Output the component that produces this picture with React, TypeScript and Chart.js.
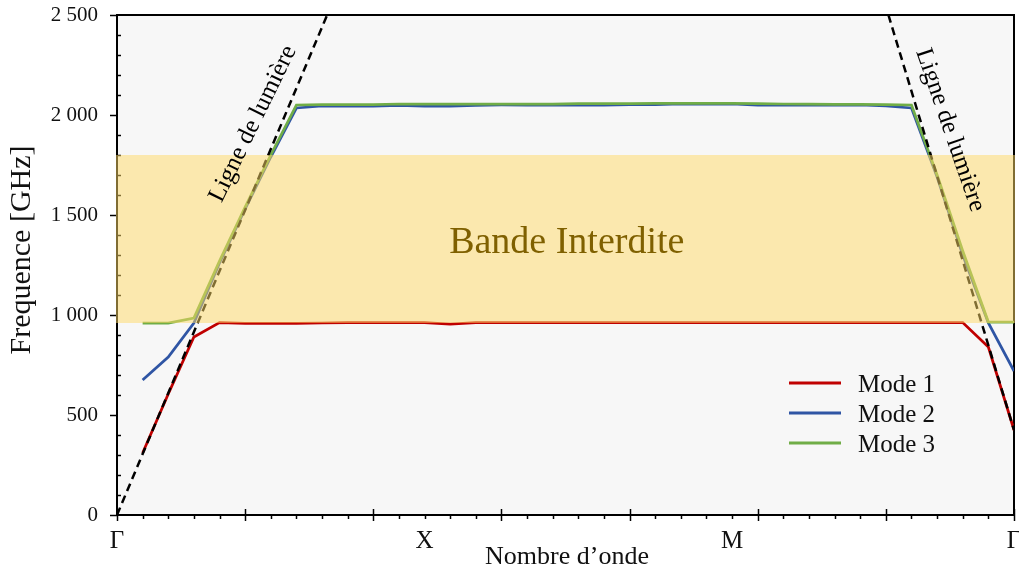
import React, { useEffect, useRef } from "react";
import { Chart, registerables } from "chart.js";

Chart.register(...registerables);

// ---- Data ----
const waveIndex = [1, 2, 3, 4, 5, 6, 7, 8, 9, 10, 11, 12, 13, 14, 15, 16, 17, 18, 19, 20, 21, 22, 23, 24, 25, 26, 27, 28, 29, 30, 31, 32, 33, 34, 35];
const mode1 = [310, 605, 890, 962, 958, 958, 958, 960, 962, 962, 962, 962, 955, 962, 962, 962, 962, 962, 962, 962, 962, 962, 962, 962, 962, 962, 962, 962, 962, 962, 962, 962, 962, 840, 425];
const mode2 = [675, 790, 960, 1260, 1530, 1790, 2035, 2045, 2045, 2045, 2048, 2045, 2045, 2048, 2050, 2050, 2050, 2050, 2050, 2052, 2052, 2055, 2055, 2055, 2050, 2050, 2050, 2050, 2050, 2045, 2035, 1690, 1300, 960, 720];
const mode3 = [960, 960, 985, 1270, 1540, 1800, 2050, 2052, 2052, 2052, 2055, 2055, 2055, 2055, 2055, 2055, 2055, 2057, 2057, 2057, 2058, 2058, 2058, 2058, 2057, 2055, 2055, 2053, 2053, 2052, 2050, 1700, 1320, 965, 965];
const seriesNames = ["Mode 1", "Mode 2", "Mode 3"];
const seriesColors = ["#c00000", "#2f55a4", "#70ad47"];

const lightLeftX = [0, 8.2];
const lightLeftY = [0, 2500];
const lightRightX = [30.1, 35];
const lightRightY = [2500, 425];

const xTickValues = [0, 12, 24, 35];
const xTickLabels = ["Γ", "X", "M", "Γ"];
const yMin = 0;
const yMax = 2500;
const yStep = 500;
const yMinorStep = 100;
const xMax = 35;
const xMajorStep = 5;

const bandLow = 960;
const bandHigh = 1800;
const bandLabel = "Bande Interdite";
const lightLabel = "Ligne de lumière";
const xTitle = "Nombre d’onde";
const yTitle = "Frequence [GHz]";

const FONT = "'Liberation Serif', 'DejaVu Serif', serif";

function fmt(v: number): string {
  if (v >= 1000) {
    const th = Math.floor(v / 1000);
    const rest = String(v % 1000).padStart(3, "0");
    return `${th} ${rest}`;
  }
  return String(v);
}

const decorPlugin = {
  id: "decor",
  beforeDatasetsDraw(chart: any) {
    const { ctx, chartArea: a, scales } = chart;
    const xs = scales.x;
    const ys = scales.y;
    ctx.save();
    ctx.fillStyle = "#f7f7f7";
    ctx.fillRect(a.left, a.top, a.right - a.left, a.bottom - a.top);
    ctx.strokeStyle = "#000";
    ctx.lineWidth = 2;
    ctx.strokeRect(a.left, a.top, a.right - a.left, a.bottom - a.top);
    ctx.lineWidth = 1.5;
    // y ticks
    for (let v = yMin; v <= yMax; v += yMinorStep) {
      const y = Math.round(ys.getPixelForValue(v)) + 0.5;
      ctx.beginPath();
      if (v % yStep === 0) {
        ctx.moveTo(a.left - 7, y);
        ctx.lineTo(a.left, y);
      } else {
        ctx.moveTo(a.left, y);
        ctx.lineTo(a.left + 4, y);
      }
      ctx.stroke();
    }
    // x ticks
    for (let i = 0; i <= xMax; i++) {
      const x = Math.round(xs.getPixelForValue(i)) + 0.5;
      ctx.beginPath();
      if (i % xMajorStep === 0) {
        ctx.moveTo(x, a.bottom - 6);
        ctx.lineTo(x, a.bottom + 6);
      } else {
        ctx.moveTo(x, a.bottom);
        ctx.lineTo(x, a.bottom + 4);
      }
      ctx.stroke();
    }
    ctx.restore();
  },
  afterDatasetsDraw(chart: any) {
    const { ctx, chartArea: a, scales } = chart;
    const ys = scales.y;
    const xs = scales.x;
    ctx.save();
    // forbidden band (translucent, over the curves)
    const yTop = ys.getPixelForValue(bandHigh);
    const yBot = ys.getPixelForValue(bandLow);
    ctx.fillStyle = "rgba(255, 217, 102, 0.5)";
    ctx.fillRect(a.left - 1, yTop, a.right - a.left + 2, yBot - yTop);

    // band label
    ctx.fillStyle = "#7f6000";
    ctx.font = `38px ${FONT}`;
    ctx.textAlign = "center";
    ctx.textBaseline = "middle";
    ctx.fillText(bandLabel, xs.getPixelForValue(17.55), ys.getPixelForValue(1360));

    // light-line labels
    ctx.fillStyle = "#000";
    ctx.font = `25px ${FONT}`;
    ctx.save();
    ctx.translate(253, 124);
    ctx.rotate((-64 * Math.PI) / 180);
    ctx.fillText(lightLabel, 0, 0);
    ctx.restore();
    ctx.save();
    ctx.translate(950, 130);
    ctx.rotate((71 * Math.PI) / 180);
    ctx.fillText(lightLabel, 0, 0);
    ctx.restore();

    // legend
    const lx0 = 789;
    const lx1 = 841;
    const ly = [383, 413, 443];
    ctx.font = `25px ${FONT}`;
    ctx.textAlign = "left";
    ctx.textBaseline = "middle";
    for (let k = 0; k < seriesNames.length; k++) {
      ctx.strokeStyle = seriesColors[k];
      ctx.lineWidth = 3;
      ctx.beginPath();
      ctx.moveTo(lx0, ly[k]);
      ctx.lineTo(lx1, ly[k]);
      ctx.stroke();
      ctx.fillStyle = "#111";
      ctx.fillText(seriesNames[k], 858, ly[k] + 2);
    }

    // axis titles
    ctx.fillStyle = "#111";
    ctx.font = `26px ${FONT}`;
    ctx.textAlign = "center";
    ctx.textBaseline = "middle";
    ctx.fillText(xTitle, 567, 557);
    ctx.save();
    ctx.translate(22, 250);
    ctx.rotate(-Math.PI / 2);
    ctx.font = `30px ${FONT}`;
    ctx.fillText(yTitle, 0, 0);
    ctx.restore();
    ctx.restore();
  },
};

function zeroPad(s: any) {
  s.paddingLeft = 0;
  s.paddingRight = 0;
  s.paddingTop = 0;
  s.paddingBottom = 0;
}

export default function App() {
  const ref = useRef<HTMLCanvasElement | null>(null);
  useEffect(() => {
    document.body.style.margin = "0";
    const canvas = ref.current;
    if (!canvas) return;
    const seriesData = [mode1, mode2, mode3];
    const datasets: any[] = seriesData.map((vals, k) => ({
      label: seriesNames[k],
      data: waveIndex.map((x, i) => ({ x, y: vals[i] })),
      borderColor: seriesColors[k],
      backgroundColor: seriesColors[k],
      borderWidth: 2.75,
      pointRadius: 0,
      tension: 0,
      order: 3 - k,
    }));
    datasets.push({
      label: "lumL",
      data: lightLeftX.map((x, i) => ({ x, y: lightLeftY[i] })),
      borderColor: "#000",
      borderWidth: 2.5,
      borderDash: [8, 5],
      pointRadius: 0,
      order: -1,
    });
    datasets.push({
      label: "lumR",
      data: lightRightX.map((x, i) => ({ x, y: lightRightY[i] })),
      borderColor: "#000",
      borderWidth: 2.5,
      borderDash: [8, 5],
      pointRadius: 0,
      order: -1,
    });
    const chart = new Chart(canvas, {
      type: "line",
      data: { datasets },
      options: {
        animation: false,
        responsive: true,
        maintainAspectRatio: false,
        layout: { padding: { top: 15, right: 5, left: 0, bottom: 0 } },
        plugins: { legend: { display: false }, tooltip: { enabled: false } },
        scales: {
          x: {
            type: "linear",
            min: 0,
            max: xMax,
            grid: { display: false, drawTicks: false },
            border: { display: false },
            afterBuildTicks: (s: any) => {
              s.ticks = xTickValues.map((v) => ({ value: v }));
            },
            afterFit: (s: any) => {
              s.height = 59;
              zeroPad(s);
            },
            ticks: {
              autoSkip: false,
              maxRotation: 0,
              padding: 11,
              color: "#111",
              font: { family: FONT, size: 25 },
              callback: (v: any) => {
                const idx = xTickValues.indexOf(Number(v));
                return idx >= 0 ? xTickLabels[idx] : "";
              },
            },
          },
          y: {
            min: yMin,
            max: yMax,
            grid: { display: false, drawTicks: false },
            border: { display: false },
            afterFit: (s: any) => {
              s.width = 117;
              zeroPad(s);
            },
            ticks: {
              stepSize: yStep,
              padding: 19,
              color: "#111",
              font: { family: FONT, size: 21 },
              callback: (v: any) => fmt(Number(v)),
            },
          },
        },
      },
      plugins: [decorPlugin],
    } as any);
    return () => chart.destroy();
  }, []);
  return (
    <div style={{ width: 1019, height: 574, position: "relative" }}>
      <canvas ref={ref} />
    </div>
  );
}
